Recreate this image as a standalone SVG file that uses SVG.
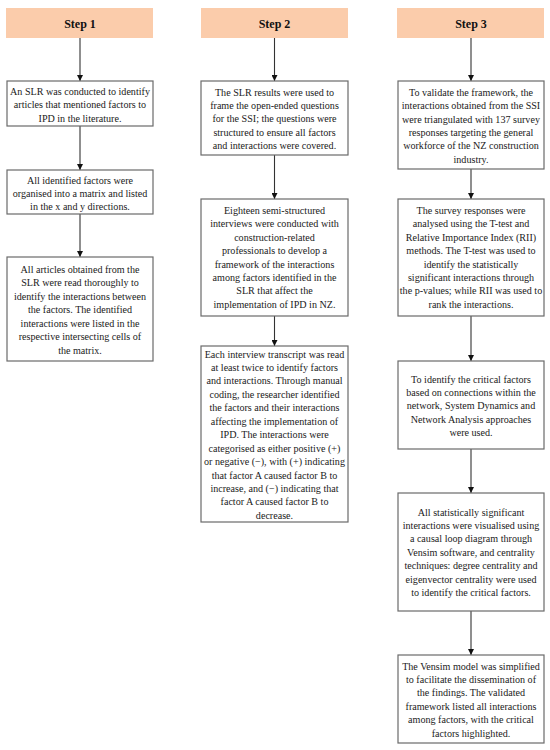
<svg xmlns="http://www.w3.org/2000/svg" width="550" height="750" viewBox="0 0 550 750">
<style>
.hdr{fill:#FBCCAB;stroke:none}
.ht{font-family:'Liberation Serif','Times New Roman',serif;font-size:12px;font-weight:bold;fill:#111;text-anchor:middle}
.box{fill:#fff;stroke:#6a6a6a;stroke-width:1.2}
.t{font-family:'Liberation Serif','Times New Roman',serif;font-size:10.1px;fill:#1a1a1a;text-anchor:middle}
.c{stroke:#333;stroke-width:1.1;fill:none;marker-end:url(#ah)}
</style>
<defs>
<marker id="ah" viewBox="0 0 10 10" refX="10" refY="5" markerWidth="6" markerHeight="6" markerUnits="userSpaceOnUse" orient="auto">
<path d="M0,0 L10,5 L0,10 Z" fill="#111"/>
</marker>
</defs>
<rect width="550" height="750" fill="#fff"/>

<g id="connectors">
<line class="c" x1="80" y1="38" x2="80" y2="81"/>
<line class="c" x1="80" y1="126" x2="80" y2="170"/>
<line class="c" x1="80" y1="214" x2="80" y2="257"/>
<line class="c" x1="274.5" y1="38" x2="274.5" y2="81"/>
<line class="c" x1="274.5" y1="155" x2="274.5" y2="199"/>
<line class="c" x1="274.5" y1="316" x2="274.5" y2="346"/>
<line class="c" x1="471" y1="38" x2="471" y2="81"/>
<line class="c" x1="471" y1="169" x2="471" y2="199"/>
<line class="c" x1="471" y1="316" x2="471" y2="361"/>
<line class="c" x1="471" y1="449" x2="471" y2="493"/>
<line class="c" x1="471" y1="611" x2="471" y2="655"/>
</g>

<g id="step1">
<rect class="hdr" x="6" y="8" width="147" height="30"/>
<text class="ht" x="80" y="28">Step 1</text>
</g>
<g id="step2">
<rect class="hdr" x="201" y="8" width="147" height="30"/>
<text class="ht" x="274.5" y="28">Step 2</text>
</g>
<g id="step3">
<rect class="hdr" x="397" y="8" width="147" height="30"/>
<text class="ht" x="471" y="28">Step 3</text>
</g>

<g id="s1b1">
<rect class="box" x="7" y="81" width="146" height="45"/>
<text class="t" x="80" y="95"><tspan x="80">An SLR was conducted to identify</tspan><tspan x="80" dy="13.4">articles that mentioned factors to</tspan><tspan x="80" dy="13.4">IPD in the literature.</tspan></text>
</g>
<g id="s1b2">
<rect class="box" x="7" y="170" width="146" height="44"/>
<text class="t" x="80" y="183.5"><tspan x="80">All identified factors were</tspan><tspan x="80" dy="13.4">organised into a matrix and listed</tspan><tspan x="80" dy="13.4">in the x and y directions.</tspan></text>
</g>
<g id="s1b3">
<rect class="box" x="7" y="257" width="146" height="104"/>
<text class="t" x="80" y="272.5"><tspan x="80">All articles obtained from the</tspan><tspan x="80" dy="13.5">SLR were read thoroughly to</tspan><tspan x="80" dy="13.5">identify the interactions between</tspan><tspan x="80" dy="13.5">the factors. The identified</tspan><tspan x="80" dy="13.5">interactions were listed in the</tspan><tspan x="80" dy="13.5">respective intersecting cells of</tspan><tspan x="80" dy="13.5">the matrix.</tspan></text>
</g>

<g id="s2b1">
<rect class="box" x="201" y="81" width="147" height="74"/>
<text class="t" x="274.5" y="95.5"><tspan x="274.5">The SLR results were used to</tspan><tspan x="274.5" dy="13.4">frame the open-ended questions</tspan><tspan x="274.5" dy="13.4">for the SSI; the questions were</tspan><tspan x="274.5" dy="13.4">structured to ensure all factors</tspan><tspan x="274.5" dy="13.4">and interactions were covered.</tspan></text>
</g>
<g id="s2b2">
<rect class="box" x="201" y="199" width="147" height="117"/>
<text class="t" x="274.5" y="214"><tspan x="274.5">Eighteen semi-structured</tspan><tspan x="274.5" dy="13.4">interviews were conducted with</tspan><tspan x="274.5" dy="13.4">construction-related</tspan><tspan x="274.5" dy="13.4">professionals to develop a</tspan><tspan x="274.5" dy="13.4">framework of the interactions</tspan><tspan x="274.5" dy="13.4">among factors identified in the</tspan><tspan x="274.5" dy="13.4">SLR that affect the</tspan><tspan x="274.5" dy="13.4">implementation of IPD in NZ.</tspan></text>
</g>
<g id="s2b3">
<rect class="box" x="201" y="346" width="147" height="176"/>
<text class="t" x="274.5" y="357.5"><tspan x="274.5">Each interview transcript was read</tspan><tspan x="274.5" dy="13.45">at least twice to identify factors</tspan><tspan x="274.5" dy="13.45">and interactions. Through manual</tspan><tspan x="274.5" dy="13.45">coding, the researcher identified</tspan><tspan x="274.5" dy="13.45">the factors and their interactions</tspan><tspan x="274.5" dy="13.45">affecting the implementation of</tspan><tspan x="274.5" dy="13.45">IPD. The interactions were</tspan><tspan x="274.5" dy="13.45">categorised as either positive (+)</tspan><tspan x="274.5" dy="13.45">or negative (−), with (+) indicating</tspan><tspan x="274.5" dy="13.45">that factor A caused factor B to</tspan><tspan x="274.5" dy="13.45">increase, and (−) indicating that</tspan><tspan x="274.5" dy="13.45">factor A caused factor B to</tspan><tspan x="274.5" dy="13.45">decrease.</tspan></text>
</g>

<g id="s3b1">
<rect class="box" x="398" y="81" width="146" height="88"/>
<text class="t" x="471" y="95.8"><tspan x="471">To validate the framework, the</tspan><tspan x="471" dy="13.4">interactions obtained from the SSI</tspan><tspan x="471" dy="13.4">were triangulated with 137 survey</tspan><tspan x="471" dy="13.4">responses targeting the general</tspan><tspan x="471" dy="13.4">workforce of the NZ construction</tspan><tspan x="471" dy="13.4">industry.</tspan></text>
</g>
<g id="s3b2">
<rect class="box" x="398" y="199" width="146" height="117"/>
<text class="t" x="471" y="214"><tspan x="471">The survey responses were</tspan><tspan x="471" dy="13.4">analysed using the T-test and</tspan><tspan x="471" dy="13.4">Relative Importance Index (RII)</tspan><tspan x="471" dy="13.4">methods. The T-test was used to</tspan><tspan x="471" dy="13.4">identify the statistically</tspan><tspan x="471" dy="13.4">significant interactions through</tspan><tspan x="471" dy="13.4">the p-values; while RII was used to</tspan><tspan x="471" dy="13.4">rank the interactions.</tspan></text>
</g>
<g id="s3b3">
<rect class="box" x="398" y="361" width="146" height="88"/>
<text class="t" x="471" y="382.5"><tspan x="471">To identify the critical factors</tspan><tspan x="471" dy="13.4">based on connections within the</tspan><tspan x="471" dy="13.4">network, System Dynamics and</tspan><tspan x="471" dy="13.4">Network Analysis approaches</tspan><tspan x="471" dy="13.4">were used.</tspan></text>
</g>
<g id="s3b4">
<rect class="box" x="398" y="493" width="146" height="118"/>
<text class="t" x="471" y="515.5"><tspan x="471">All statistically significant</tspan><tspan x="471" dy="13.4">interactions were visualised using</tspan><tspan x="471" dy="13.4">a causal loop diagram through</tspan><tspan x="471" dy="13.4">Vensim software, and centrality</tspan><tspan x="471" dy="13.4">techniques: degree centrality and</tspan><tspan x="471" dy="13.4">eigenvector centrality were used</tspan><tspan x="471" dy="13.4">to identify the critical factors.</tspan></text>
</g>
<g id="s3b5">
<rect class="box" x="398" y="655" width="146" height="88"/>
<text class="t" x="471" y="669.5"><tspan x="471">The Vensim model was simplified</tspan><tspan x="471" dy="13.4">to facilitate the dissemination of</tspan><tspan x="471" dy="13.4">the findings. The validated</tspan><tspan x="471" dy="13.4">framework listed all interactions</tspan><tspan x="471" dy="13.4">among factors, with the critical</tspan><tspan x="471" dy="13.4">factors highlighted.</tspan></text>
</g>
</svg>
